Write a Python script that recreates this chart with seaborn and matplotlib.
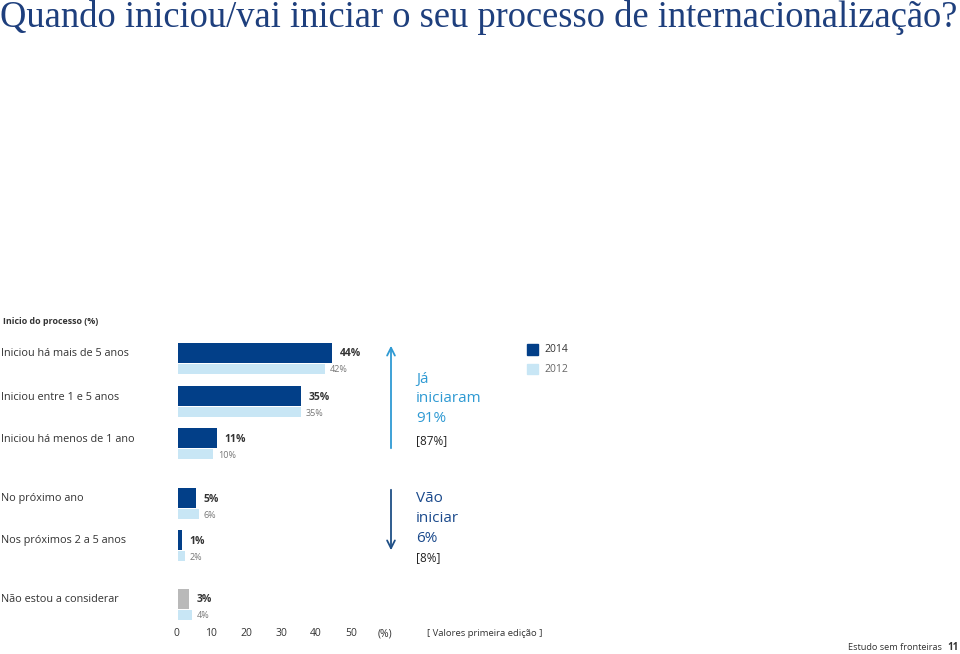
import matplotlib.pyplot as plt
import seaborn as sns

sns.set_style("white")
plt.rcParams['font.family'] = ['Open Sans', 'DejaVu Sans']

# data
categories = ["Iniciou há mais de 5 anos", "Iniciou entre 1 e 5 anos", "Iniciou há menos de 1 ano",
              "No próximo ano", "Nos próximos 2 a 5 anos", "Não estou a considerar"]
values_2014 = [44, 35, 11, 5, 1, 3]
values_2012 = [42, 35, 10, 6, 2, 4]
ticks = [0, 10, 20, 30, 40, 50]

DARK = "#023f88"
LIGHT = "#c8e6f5"
GREY = "#b9b9b9"
CYAN = "#2f9ad3"
TXT = "#333333"

# layout: top pixel row of each 2014 bar
row_tops = [343, 386, 428, 488, 530, 589]

fig = plt.figure(figsize=(9.6, 6.54), dpi=100)
# overlay in pixel coordinates for free text
ov = fig.add_axes([0, 0, 1, 1])
ov.set_xlim(0, 960)
ov.set_ylim(654, 0)
ov.axis('off')

# bar axes: x in percent (3.5 px per %), y in pixel rows
ax = fig.add_axes([178 / 960, 0, 350 / 960, 1])
ax.set_xlim(0, 100)
ax.set_ylim(654, 0)
ax.axis('off')

for i, (cat, v14, v12, top) in enumerate(zip(categories, values_2014, values_2012, row_tops)):
    c = GREY if i == 5 else DARK
    ax.barh(top + 10, v14, height=20, left=0, color=c, edgecolor='none')
    ax.barh(top + 26, v12, height=10, left=0, color=LIGHT, edgecolor='none')
    ax.annotate(f"{v14}%", (v14, top + 11), xytext=(8, 0), textcoords='offset pixels',
                ha='left', va='center', fontsize=7.5, fontweight='bold', color=TXT)
    ax.annotate(f"{v12}%", (v12, top + 27), xytext=(5, 0), textcoords='offset pixels',
                ha='left', va='center', fontsize=6.5, color='#777777')
    ov.text(1, top + 11, cat, ha='left', va='center', fontsize=7.8, color=TXT)

for t in ticks:
    ax.annotate(str(t), (t, 634), xytext=(-2, 0), textcoords='offset pixels',
                ha='center', va='center', fontsize=7.5, color=TXT)
ov.text(385, 634, "(%)", ha='center', va='center', fontsize=7.5, color=TXT)
ov.text(427, 634, "[ Valores primeira edição ]", ha='left', va='center', fontsize=6.8, color=TXT)

# title and subtitle
ov.text(0, 27, "Quando iniciou/vai iniciar o seu processo de internacionalização?",
        family='Liberation Serif', fontsize=26.3, color="#1e3f7d", ha='left', va='baseline')
ov.text(3, 322, "Inicio do processo (%)", fontsize=6.4, fontweight='bold', color=TXT, va='center')

# arrows and summaries
ov.annotate("", xy=(391, 343), xytext=(391, 451),
            arrowprops=dict(arrowstyle='->', color=CYAN, lw=1.3, mutation_scale=14))
ov.text(416, 380, "Já", fontsize=11, color=CYAN, va='center')
ov.text(416, 399, "iniciaram", fontsize=11, color=CYAN, va='center')
ov.text(416, 419, "91%", fontsize=11, color=CYAN, va='center')
ov.text(416, 441, "[87%]", fontsize=8.5, color='#222222', va='center')

ov.annotate("", xy=(391, 553), xytext=(391, 487),
            arrowprops=dict(arrowstyle='->', color="#1f4f86", lw=1.3, mutation_scale=14))
ov.text(416, 498, "Vão", fontsize=11, color="#1b4a8c", va='center')
ov.text(416, 518, "iniciar", fontsize=11, color="#1b4a8c", va='center')
ov.text(416, 538, "6%", fontsize=11, color="#1b4a8c", va='center')
ov.text(416, 558, "[8%]", fontsize=8.5, color='#222222', va='center')

# legend
ov.add_patch(plt.Rectangle((527, 344), 11, 11, color=DARK))
ov.add_patch(plt.Rectangle((527, 364), 11, 10, color=LIGHT))
ov.text(544, 350, "2014", fontsize=7.5, color=TXT, va='center')
ov.text(544, 370, "2012", fontsize=7.5, color='#666666', va='center')

# footer
ov.text(942, 648, "Estudo sem fronteiras", fontsize=6.6, color=TXT, ha='right', va='center')
ov.text(947, 648, "11", fontsize=7, fontweight='bold', color=TXT, ha='left', va='center')

fig.savefig("out.png", dpi=100)
